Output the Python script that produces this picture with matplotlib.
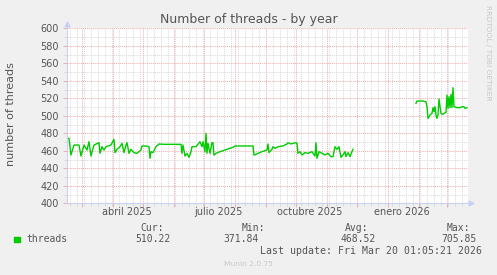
import matplotlib

matplotlib.use("Agg")
import matplotlib.pyplot as plt
import numpy as np
from matplotlib.patches import Rectangle

W, H = 497, 275

# day offsets from 2025-02-14, thread counts
SERIES_START = np.datetime64("2025-02-14")
days_a = [0, 2, 4, 7, 12, 14, 17, 20, 22, 24, 27, 32, 33, 35, 37, 39, 44, 47, 48, 50,
          53, 55, 57, 59, 60, 62, 64, 67, 70, 74, 75, 79, 82, 83, 84, 86, 89, 92, 97, 114,
          115, 116, 118, 120, 122, 124, 125, 129, 133, 135, 136, 138, 139, 140, 141, 143, 145, 146, 147, 149,
          153, 160, 166, 168, 186, 187, 191, 195, 200, 201, 202, 205, 206, 208, 211, 216, 220, 221, 224, 226,
          229, 230, 231, 233, 235, 238, 241, 245, 248, 249, 250, 252, 255, 258, 261, 264, 266, 268, 270, 272,
          274, 276, 278, 279, 281, 283, 285, 286]
threads_a = [474.2, 474.2, 455.2, 466.6, 466.6, 454.0, 466.6, 460.9, 470.4, 454.0,
             466.6, 469.3, 457.1, 464.7, 460.9, 464.7, 466.6, 473.1, 457.9, 461.7,
             464.7, 468.5, 457.9, 466.6, 469.3, 457.1, 461.7, 457.9, 457.1, 460.9,
             465.5, 465.5, 464.7, 451.4, 459.0, 457.9, 464.7, 467.8, 467.4, 467.4,
             457.1, 466.6, 454.0, 457.1, 452.5, 459.0, 464.7, 464.7, 470.4, 464.7,
             470.4, 459.0, 480.0, 457.1, 468.5, 457.1, 469.3, 469.3, 455.0, 457.1,
             459.0, 461.7, 464.0, 465.5, 465.5, 455.0, 457.1, 459.0, 460.9, 467.8,
             457.9, 461.7, 464.7, 462.8, 464.7, 465.5, 467.8, 469.3, 467.8, 468.5,
             469.3, 468.5, 457.1, 459.0, 455.2, 457.9, 457.1, 459.0, 454.0, 469.3,
             451.4, 459.0, 457.1, 455.2, 457.1, 453.3, 453.3, 464.7, 461.7, 464.7,
             452.5, 455.2, 459.0, 453.3, 457.9, 453.3, 459.0, 461.7]
days_b = [349, 350, 356, 359, 360, 361, 363, 365, 366, 367, 368, 369, 370, 371, 372, 374,
          376, 377, 379, 380, 381, 382, 383, 384, 385, 386, 387, 390, 393, 395, 397, 398, 400]
threads_b = [514.2, 516.9, 516.9, 516.0, 510.4, 497.0, 500.9, 502.8, 509.3, 504.7,
             510.4, 500.9, 497.0, 500.9, 519.2, 502.8, 501.6, 502.8, 503.9, 523.7,
             508.5, 521.8, 509.3, 524.5, 509.3, 532.1, 510.4, 509.3, 509.3, 510.4,
             510.4, 508.5, 509.3]

y_ticks = list(range(400, 601, 20))
y_minor = list(range(410, 600, 20))
label_dates = ["2025-04-15", "2025-07-15", "2025-10-15", "2026-01-15"]
label_texts = ["abril 2025", "julio 2025", "octubre 2025", "enero 2026"]

legend_heads = ["Cur:", "Min:", "Avg:", "Max:"]
legend_vals = ["510.22", "371.84", "468.52", "705.85"]
head_right = [163.5, 265.5, 368.5, 470.5]
val_right = [170.5, 258.5, 375.5, 477.0]

TEXT_C = "#555555"
MAJOR_C = "#f0aaaa"
MINOR_C = "#d9d9d9"
AXIS_C = "#c9d0f4"
LINE_C = "#00cc00"


def px(x, y):
    return x / W, 1 - y / H


fig = plt.figure(figsize=(W / 100, H / 100), dpi=100, facecolor="#f0f0f0")
left, right, top, bottom = 66.7, 467.7, 28.3, 203.3
ax = fig.add_axes([left / W, 1 - bottom / H, (right - left) / W, (bottom - top) / H])
ax.set_facecolor("white")

x_a = SERIES_START + np.array(days_a, dtype="timedelta64[D]")
x_b = SERIES_START + np.array(days_b, dtype="timedelta64[D]")
ax.plot(x_a, threads_a, color=LINE_C, lw=1.0, zorder=3)
ax.plot(x_b, threads_b, color=LINE_C, lw=1.0, zorder=3)

ax.set_xlim(np.datetime64("2025-02-13T17:00"), np.datetime64("2026-03-21T17:00"))
ax.set_ylim(400, 600)

months = np.arange("2025-03", "2026-04", dtype="datetime64[M]").astype("datetime64[D]")
weeks = np.arange(np.datetime64("2025-02-17"), np.datetime64("2026-03-22"), 7)
ax.set_xticks(months)
ax.set_xticks(weeks, minor=True)
ax.set_xticklabels([])
ax.set_yticks(y_ticks)
ax.set_yticks(y_minor, minor=True)
ax.set_yticklabels([str(v) for v in y_ticks])

ax.tick_params(which="major", length=3, width=0.7, color=MAJOR_C, labelsize=7,
               labelcolor=TEXT_C, pad=2.5)
ax.tick_params(which="minor", length=2, width=0.7, color=MINOR_C)
ax.grid(which="minor", color=MINOR_C, linestyle=(0, (1, 1)), linewidth=0.7)
ax.grid(which="major", color=MAJOR_C, linestyle=(0, (1, 1)), linewidth=0.7)
ax.set_axisbelow(True)

for side in ("top", "right"):
    ax.spines[side].set_visible(False)
for side in ("left", "bottom"):
    ax.spines[side].set_color(AXIS_C)
    ax.spines[side].set_linewidth(0.8)
    ax.spines[side].set_zorder(4)

# axis arrows
ax.plot([1.0 + 3 / 401], [0], marker=">", ms=3.5, color=AXIS_C, transform=ax.transAxes,
        clip_on=False, zorder=5)
ax.plot([0], [1.0 + 4 / 175], marker="^", ms=3.5, color=AXIS_C, transform=ax.transAxes,
        clip_on=False, zorder=5)

for d, t in zip(label_dates, label_texts):
    ax.text(np.datetime64(d), -9 / 175, t, transform=ax.get_xaxis_transform(),
            ha="center", va="center", fontsize=7, color=TEXT_C)

fig.text(*px(248.5, 19), "Number of threads - by year", ha="center", va="center",
         fontsize=9, color=TEXT_C)
fig.text(*px(11, 114), "number of threads", ha="center", va="center", rotation=90,
         fontsize=8, color=TEXT_C)
fig.text(*px(488, 53), "RRDTOOL / TOBI OETIKER", ha="center", va="center", rotation=270,
         fontsize=5.4, color="#c8c8c8")

mono = "DejaVu Sans Mono"
fig.patches.append(Rectangle(px(14, 242.3), 5.5 / W, 5.5 / H, transform=fig.transFigure,
                             color=LINE_C))
fig.text(*px(26.5, 239.5), "threads", ha="left", va="center", fontsize=7,
         family=mono, color=TEXT_C)
for head, val, hx, vx in zip(legend_heads, legend_vals, head_right, val_right):
    fig.text(*px(hx, 228), head, ha="right", va="center", fontsize=7, family=mono, color=TEXT_C)
    fig.text(*px(vx, 239.5), val, ha="right", va="center", fontsize=7, family=mono, color=TEXT_C)
fig.text(*px(482.5, 251), "Last update: Fri Mar 20 01:05:21 2026", ha="right", va="center",
         fontsize=7.1, family=mono, color=TEXT_C)
fig.text(*px(248, 264.5), "Munin 2.0.75", ha="center", va="center", fontsize=5.4,
         color="#c8c8c8")

fig.savefig("out.png", dpi=100, facecolor=fig.get_facecolor())
